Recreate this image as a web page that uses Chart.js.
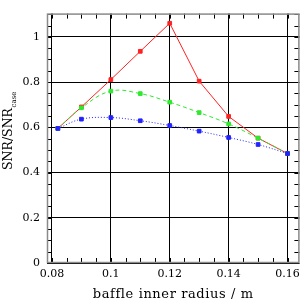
<!DOCTYPE html>
<html>
<head>
<meta charset="utf-8">
<script src="https://cdn.jsdelivr.net/npm/chart.js@4"></script>
<style>
  body { margin: 0; background: #fff; }
  canvas { display: block; }
</style>
</head>
<body>
<canvas id="myChart" width="305" height="305"></canvas>
<script>
// baffle inner radius (m)
const radius = [0.082, 0.09, 0.10, 0.11, 0.12, 0.13, 0.14, 0.15, 0.16];
// SNR / SNR_case for the three curves
const snrRed   = [0.595, 0.690, 0.811, 0.936, 1.060, 0.804, 0.648, 0.552, 0.484];
const snrGreen = [0.595, 0.686, 0.760, 0.749, 0.711, 0.665, 0.615, 0.552, 0.484];
const snrBlue  = [0.595, 0.636, 0.643, 0.629, 0.608, 0.583, 0.555, 0.524, 0.484];

const xTicks = [0.08, 0.10, 0.12, 0.14, 0.16];
const yTicks = [0, 0.2, 0.4, 0.6, 0.8, 1.0];
const xMinorStep = 0.005;
const yMinorStep = 0.05;

function points(ys) {
    return radius.map((x, i) => ({ x: x, y: ys[i] }));
}

function series(ys, color, dash, tension) {
    return {
        data: points(ys),
        showLine: true,
        borderColor: color,
        backgroundColor: color,
        borderWidth: 1,
        borderDash: dash,
        tension: tension,
        pointStyle: 'rect',
        pointRadius: 2.6,
        pointBorderWidth: 1,
        pointBorderColor: color,
        pointBackgroundColor: color
    };
}

// minor ticks, frame and axis titles
const frame = {
    id: 'frame',
    afterDraw(chart) {
        const ctx = chart.ctx;
        const a = chart.chartArea;
        const xs = chart.scales.x, ys = chart.scales.y;
        ctx.save();
        ctx.strokeStyle = '#000';
        ctx.lineWidth = 1;
        ctx.beginPath();
        for (let v = 0.08; v <= xs.max + 1e-9; v += xMinorStep) {
            const px = Math.round(xs.getPixelForValue(v)) + 0.5;
            ctx.moveTo(px, a.bottom); ctx.lineTo(px, a.bottom - 5);
            ctx.moveTo(px, a.top); ctx.lineTo(px, a.top + 5);
        }
        for (let v = 0; v <= ys.max + 1e-9; v += yMinorStep) {
            const py = Math.round(ys.getPixelForValue(v)) + 0.5;
            ctx.moveTo(a.left, py); ctx.lineTo(a.left + 5, py);
            ctx.moveTo(a.right, py); ctx.lineTo(a.right - 5, py);
        }
        ctx.stroke();

        ctx.strokeStyle = '#8a8a8a';
        ctx.lineWidth = 1.5;
        ctx.strokeRect(a.left + 0.5, a.top + 0.5, a.right - a.left - 1, a.bottom - a.top - 1);

        ctx.fillStyle = '#000';
        ctx.font = '13px "DejaVu Serif"';
        ctx.letterSpacing = '0.6px';
        ctx.textAlign = 'center';
        ctx.textBaseline = 'alphabetic';
        ctx.fillText('baffle inner radius / m', (a.left + a.right) / 2, 298);
        ctx.letterSpacing = '0px';

        ctx.translate(12, 170);
        ctx.rotate(-Math.PI / 2);
        ctx.textAlign = 'left';
        ctx.font = '12.5px "DejaVu Serif"';
        const main = 'SNR/SNR';
        ctx.fillText(main, 0, 0);
        const w = ctx.measureText(main).width;
        ctx.font = '7px "DejaVu Serif"';
        ctx.fillText('case', w + 0.5, 4);
        ctx.restore();
    }
};

const config = {
    type: 'scatter',
    data: {
        datasets: [
            series(snrBlue, '#2222ff', [1, 2], 0.4),
            series(snrGreen, '#30e830', [4, 3], 0.4),
            series(snrRed, '#ff2222', [], 0)
        ]
    },
    options: {
        responsive: false,
        animation: false,
        devicePixelRatio: 1,
        layout: { padding: { left: 0, right: 3, top: 0, bottom: 0 } },
        plugins: {
            legend: { display: false },
            tooltip: { enabled: false }
        },
        scales: {
            x: {
                type: 'linear',
                min: 0.07832,
                max: 0.16403,
                afterBuildTicks: function(scale) {
                    scale.ticks = xTicks.map(v => ({ value: v }));
                },
                afterFit: function(scale) { scale.height = 42; },
                border: { display: false },
                grid: { color: '#000', lineWidth: 1, drawTicks: false },
                ticks: {
                    padding: 5,
                    color: '#000',
                    font: { family: 'DejaVu Serif', size: 11 },
                    callback: function(value) {
                        return String(parseFloat(value.toFixed(2)));
                    }
                }
            },
            y: {
                min: 0,
                max: 1.1027,
                afterBuildTicks: function(scale) {
                    scale.ticks = yTicks.map(v => ({ value: v }));
                },
                afterFit: function(scale) { scale.width = 47; },
                border: { display: false },
                grid: { color: '#000', lineWidth: 1, drawTicks: false },
                ticks: {
                    padding: 7,
                    color: '#000',
                    font: { family: 'DejaVu Serif', size: 11 },
                    callback: function(value) {
                        return String(parseFloat(value.toFixed(1)));
                    }
                }
            }
        }
    },
    plugins: [frame]
};

new Chart(document.getElementById('myChart'), config);
</script>
</body>
</html>
